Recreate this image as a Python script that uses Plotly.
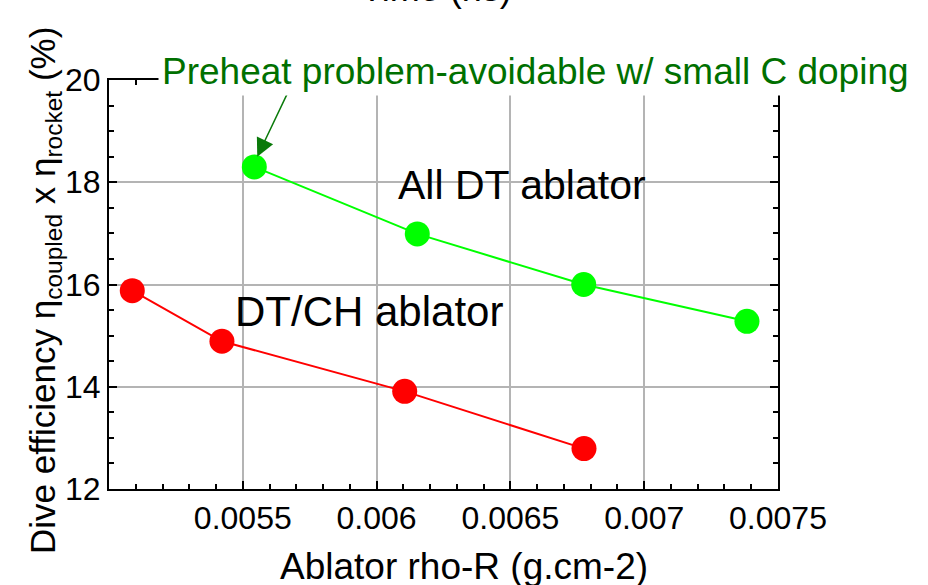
import plotly.graph_objects as go

# Data
dt_x = [0.005543, 0.006152, 0.006774, 0.007384]
dt_y = [18.30, 16.99, 16.00, 15.28]
ch_x = [0.005087, 0.005422, 0.006105, 0.006775]
ch_y = [15.88, 14.89, 13.91, 12.79]

x_ticks = [0.0055, 0.006, 0.0065, 0.007, 0.0075]
x_ticklabels = ["0.0055", "0.006", "0.0065", "0.007", "0.0075"]
y_ticks = [12, 14, 16, 18, 20]

FONT = "Liberation Sans, Arial, sans-serif"
W, H = 928, 585
ML, MR, MT, MB = 109, 150, 80, 96
PW = W - ML - MR
PH = H - MT - MB

def px_to_paper_x(px):
    return (px - ML) / PW

def px_to_paper_y(py):
    return (H - MB - py) / PH

fig = go.Figure()
fig.add_trace(go.Scatter(
    x=ch_x, y=ch_y, mode="lines+markers",
    line=dict(color="#ff0000", width=2),
    marker=dict(color="#ff0000", size=25),
    showlegend=False, name="DT/CH ablator"))
fig.add_trace(go.Scatter(
    x=dt_x, y=dt_y, mode="lines+markers",
    line=dict(color="#00ff00", width=2),
    marker=dict(color="#00ff00", size=25),
    showlegend=False, name="All DT ablator"))

axis_common = dict(
    showline=True, linecolor="black", linewidth=2, mirror="ticks",
    ticks="inside", ticklen=8, tickwidth=2, tickcolor="black",
    showgrid=True, gridcolor="#b4b4b4", gridwidth=1.5,
    zeroline=False,
    tickfont=dict(family=FONT, size=32, color="black"),
)

fig.update_xaxes(
    range=[0.005, 0.0075], tickvals=x_ticks, ticktext=x_ticklabels,
    minor=dict(dtick=0.0001, ticks="inside", ticklen=5, tickwidth=2,
               tickcolor="black", showgrid=False),
    **axis_common)
fig.update_yaxes(
    range=[12, 20], tickvals=y_ticks,
    minor=dict(dtick=0.5, ticks="inside", ticklen=5, tickwidth=2,
               tickcolor="black", showgrid=False),
    **axis_common)

annotations = [
    # cut-off title of the chart above
    dict(text="Time (ns)", xref="paper", yref="paper",
         x=px_to_paper_x(436), y=px_to_paper_y(-12), xanchor="center", yanchor="middle",
         showarrow=False, font=dict(family=FONT, size=36, color="black")),
    # x axis title
    dict(text="Ablator rho-R (g.cm-2)", xref="paper", yref="paper",
         x=px_to_paper_x(464), y=px_to_paper_y(566), xanchor="center", yanchor="middle",
         showarrow=False, font=dict(family=FONT, size=37, color="black")),
    # y axis title
    dict(text="Dive efficiency η<sub>coupled</sub> x η<sub>rocket</sub> (%)",
         xref="paper", yref="paper", textangle=-90,
         x=px_to_paper_x(45), y=px_to_paper_y(291), xanchor="center", yanchor="middle",
         showarrow=False, font=dict(family=FONT, size=35, color="black")),
    dict(text="All DT ablator", xref="x", yref="y", x=0.006074, y=17.95,
         xanchor="left", yanchor="middle", showarrow=False,
         font=dict(family=FONT, size=41, color="black")),
    dict(text="DT/CH ablator", xref="x", yref="y", x=0.005464, y=15.47,
         xanchor="left", yanchor="middle", showarrow=False,
         font=dict(family=FONT, size=42, color="black")),
    # arrow
    dict(text="", xref="x", yref="y", x=0.005554, y=18.5,
         showarrow=True, ax=31, ay=-65, arrowhead=2, arrowsize=2.4,
         arrowwidth=1.5, arrowcolor="#0a7a0a"),
    # green note with white background
    dict(text="Preheat problem-avoidable w/ small C doping",
         xref="paper", yref="paper", x=px_to_paper_x(158), y=px_to_paper_y(72),
         xanchor="left", yanchor="middle", showarrow=False,
         bgcolor="white", borderpad=3,
         font=dict(family=FONT, size=37, color="#007000")),
]

fig.update_layout(
    width=W, height=H,
    margin=dict(l=ML, r=MR, t=MT, b=MB, pad=0),
    paper_bgcolor="white", plot_bgcolor="white",
    font=dict(family=FONT, color="black"),
    annotations=annotations,
)

fig.write_html("out.html", config={"displayModeBar": False},
               post_script="document.body.style.margin='0';")
